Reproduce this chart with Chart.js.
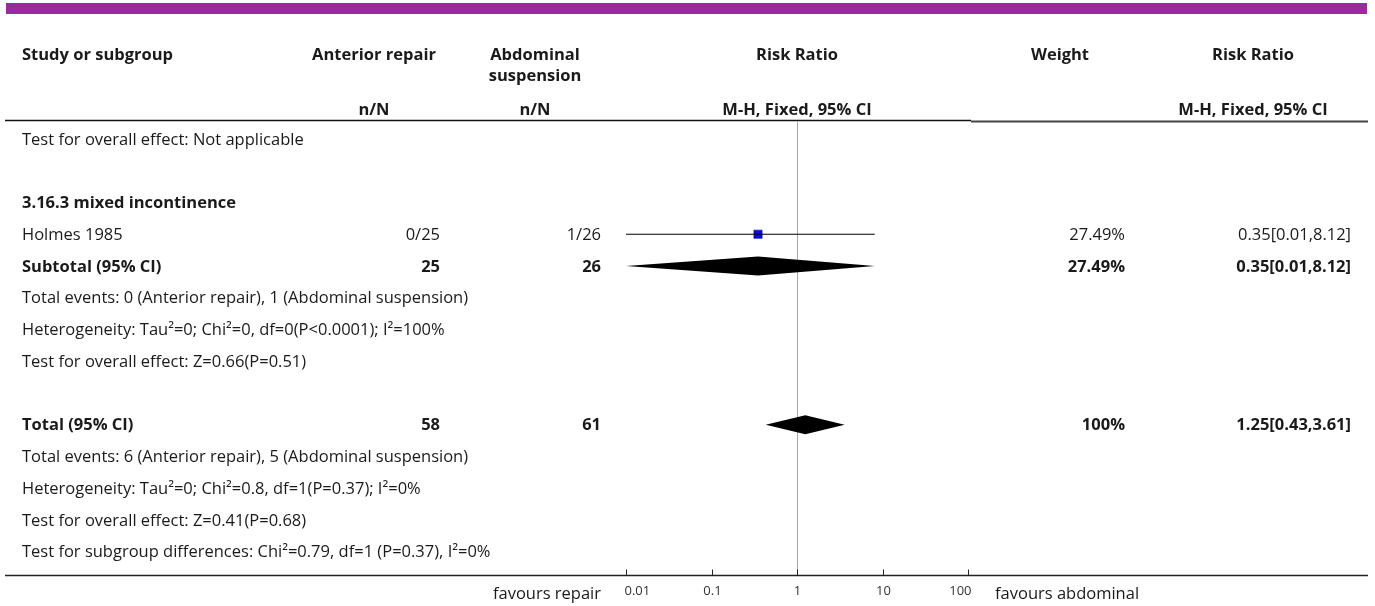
<!DOCTYPE html>
<html>
<head>
<meta charset="utf-8">
<script src="https://cdn.jsdelivr.net/npm/chart.js@4"></script>
<style>
  html, body { margin: 0; padding: 0; background: #ffffff; }
  #wrap { width: 1375px; height: 606px; position: relative; }
</style>
</head>
<body>
<div id="wrap"><canvas id="forest" width="1375" height="606"></canvas></div>
<script>
// ---- Table rows (left-hand text column), one entry per row ----
const rowText = [
  'Test for overall effect: Not applicable',
  '',
  '3.16.3 mixed incontinence',
  'Holmes 1985',
  'Subtotal (95% CI)',
  'Total events: 0 (Anterior repair), 1 (Abdominal suspension)',
  'Heterogeneity: Tau\u00B2=0; Chi\u00B2=0, df=0(P<0.0001); I\u00B2=100%',
  'Test for overall effect: Z=0.66(P=0.51)',
  '',
  'Total (95% CI)',
  'Total events: 6 (Anterior repair), 5 (Abdominal suspension)',
  'Heterogeneity: Tau\u00B2=0; Chi\u00B2=0.8, df=1(P=0.37); I\u00B2=0%',
  'Test for overall effect: Z=0.41(P=0.68)',
  'Test for subgroup differences: Chi\u00B2=0.79, df=1 (P=0.37), I\u00B2=0%'
];
const rowBold = [false, false, true, false, true, false, false, false, false, true, false, false, false, false];

// ---- Individual studies ----
const studyRows = [3];
const studyRepair = ['0/25'];
const studyAbdominal = ['1/26'];
const studyWeight = [27.49];
const studyRR = [0.35];
const studyLow = [0.01];
const studyHigh = [8.12];

// ---- Pooled estimates (subtotal, total) ----
const pooledRows = [4, 9];
const pooledRepairN = [25, 58];
const pooledAbdominalN = [26, 61];
const pooledWeight = [27.49, 100];
const pooledRR = [0.35, 1.25];
const pooledLow = [0.01, 0.43];
const pooledHigh = [8.12, 3.61];

// ---- Axis ----
const axisTicks = [0.01, 0.1, 1, 10, 100];
const axisTickLabels = ['0.01', '0.1', '1', '10', '100'];
const favoursLeft = 'favours repair';
const favoursRight = 'favours abdominal';

const FONT = '"Open Sans"';
const SIZE = 16.5;
const TEXT = '#1a1a1a';
const DIAMOND_HALF = 0.3; // half height of a pooled diamond, in rows

function fmtCI(rr, lo, hi) {
  return rr.toFixed(2) + '[' + lo.toFixed(2) + ',' + hi.toFixed(2) + ']';
}

// datasets
const datasets = [];
studyRows.forEach((r, i) => {
  datasets.push({
    label: 'ci' + i,
    data: [{ x: studyLow[i], y: r }, { x: studyHigh[i], y: r }],
    showLine: true, borderColor: '#000', borderWidth: 1,
    pointRadius: 0, fill: false
  });
});
datasets.push({
  label: 'estimates',
  data: studyRows.map((r, i) => ({ x: studyRR[i], y: r })),
  pointStyle: 'rect', pointRadius: 5.8,
  backgroundColor: '#0a0af0', borderColor: '#00007a', borderWidth: 0.6
});
pooledRows.forEach((r, i) => {
  datasets.push({
    label: 'pooled' + i,
    data: [
      { x: pooledLow[i], y: r },
      { x: pooledRR[i], y: r - DIAMOND_HALF },
      { x: pooledHigh[i], y: r },
      { x: pooledRR[i], y: r + DIAMOND_HALF },
      { x: pooledLow[i], y: r }
    ],
    showLine: true, borderWidth: 0, borderColor: '#000',
    backgroundColor: '#000', pointRadius: 0, fill: 'shape', tension: 0
  });
});

const tablePlugin = {
  id: 'tablePlugin',
  beforeDatasetsDraw(chart) {
    const { ctx } = chart;
    const xs = chart.scales.x;
    const x1 = Math.round(xs.getPixelForValue(1)) + 0.5;
    ctx.save();
    ctx.strokeStyle = '#a6a6a6';
    ctx.lineWidth = 1;
    ctx.beginPath();
    ctx.moveTo(x1, 122);
    ctx.lineTo(x1, 575);
    ctx.stroke();
    ctx.restore();
  },
  afterDraw(chart) {
    const { ctx } = chart;
    const xs = chart.scales.x, ys = chart.scales.y;
    const reg = SIZE + 'px ' + FONT;
    const bold = 'bold ' + SIZE + 'px ' + FONT;
    ctx.save();

    // top band
    ctx.fillStyle = '#9c2a98';
    ctx.fillRect(6, 3, 1361, 11);

    // header
    ctx.fillStyle = TEXT;
    ctx.textBaseline = 'middle';
    ctx.font = bold;
    ctx.textAlign = 'left';
    ctx.fillText('Study or subgroup', 22, 55);
    ctx.textAlign = 'center';
    ctx.fillText('Anterior repair', 374, 55);
    ctx.fillText('Abdominal', 535, 55);
    ctx.fillText('suspension', 535, 76);
    ctx.fillText('Risk Ratio', 797, 55);
    ctx.fillText('Weight', 1060, 55);
    ctx.fillText('Risk Ratio', 1253, 55);
    ctx.fillText('n/N', 374, 110);
    ctx.fillText('n/N', 535, 110);
    ctx.fillText('M-H, Fixed, 95% CI', 797, 110);
    ctx.fillText('M-H, Fixed, 95% CI', 1253, 110);

    // header rule
    ctx.strokeStyle = '#111';
    ctx.lineWidth = 1.5;
    ctx.beginPath(); ctx.moveTo(5, 120.5); ctx.lineTo(971, 120.5); ctx.stroke();
    ctx.strokeStyle = '#444';
    ctx.lineWidth = 2;
    ctx.beginPath(); ctx.moveTo(971, 121.5); ctx.lineTo(1368, 121.5); ctx.stroke();

    // row text
    ctx.textAlign = 'left';
    rowText.forEach((t, i) => {
      if (!t) return;
      ctx.font = rowBold[i] ? bold : reg;
      ctx.fillText(t, 22, ys.getPixelForValue(i) + 1);
    });

    // study columns
    ctx.font = reg;
    ctx.textAlign = 'right';
    studyRows.forEach((r, i) => {
      const y = ys.getPixelForValue(r) + 1;
      ctx.fillText(studyRepair[i], 440, y);
      ctx.fillText(studyAbdominal[i], 601, y);
      ctx.fillText(studyWeight[i] + '%', 1125, y);
      ctx.fillText(fmtCI(studyRR[i], studyLow[i], studyHigh[i]), 1351, y);
    });
    ctx.font = bold;
    pooledRows.forEach((r, i) => {
      const y = ys.getPixelForValue(r) + 1;
      ctx.fillText(String(pooledRepairN[i]), 440, y);
      ctx.fillText(String(pooledAbdominalN[i]), 601, y);
      ctx.fillText(pooledWeight[i] + '%', 1125, y);
      ctx.fillText(fmtCI(pooledRR[i], pooledLow[i], pooledHigh[i]), 1351, y);
    });

    // bottom axis
    const axY = 575.5;
    ctx.strokeStyle = '#222';
    ctx.lineWidth = 1.5;
    ctx.beginPath(); ctx.moveTo(5, axY); ctx.lineTo(1368, axY); ctx.stroke();
    ctx.lineWidth = 1;
    ctx.font = '13px ' + FONT;
    ctx.fillStyle = '#333';
    const last = axisTicks.length - 1;
    axisTicks.forEach((v, i) => {
      const px = Math.round(xs.getPixelForValue(v)) + 0.5;
      ctx.beginPath(); ctx.moveTo(px, axY - 6); ctx.lineTo(px, axY); ctx.stroke();
      // end labels stay inside the plotting range
      ctx.textAlign = i === 0 ? 'left' : (i === last ? 'right' : 'center');
      ctx.fillText(axisTickLabels[i], i === 0 ? px - 2 : (i === last ? px + 3 : px), 591);
    });
    ctx.fillStyle = TEXT;
    ctx.font = reg;
    ctx.textAlign = 'right';
    ctx.fillText(favoursLeft, 601, 594);
    ctx.textAlign = 'left';
    ctx.fillText(favoursRight, 995, 594);

    ctx.restore();
  }
};

new Chart(document.getElementById('forest'), {
  type: 'scatter',
  data: { datasets },
  options: {
    responsive: false,
    animation: false,
    events: [],
    layout: { padding: { left: 626, right: 407, top: 120, bottom: 30.5 } },
    plugins: { legend: { display: false }, tooltip: { enabled: false } },
    scales: {
      x: { type: 'logarithmic', min: 0.01, max: 100, display: false },
      y: { type: 'linear', min: -0.598, max: 13.748, reverse: true, display: false }
    }
  },
  plugins: [tablePlugin]
});
</script>
</body>
</html>
